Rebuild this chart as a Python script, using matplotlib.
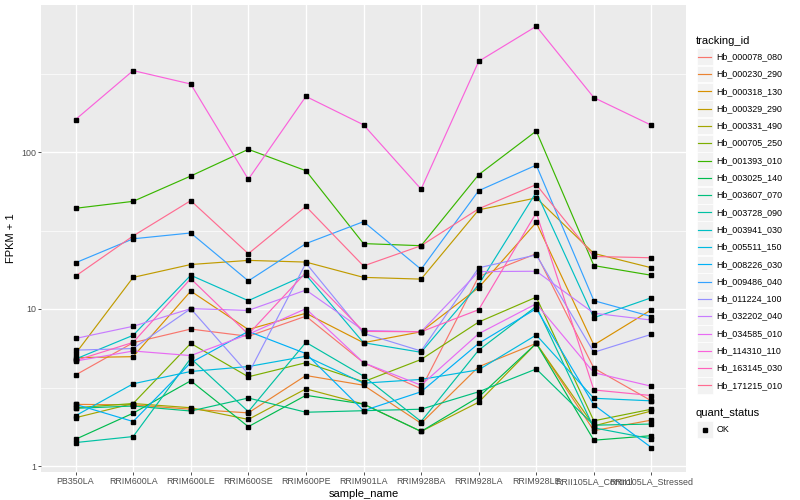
import numpy as np
import matplotlib
matplotlib.use("Agg")
import matplotlib.pyplot as plt
from matplotlib.patches import Rectangle
from matplotlib.lines import Line2D

plt.rcParams['font.family'] = ['Liberation Sans', 'DejaVu Sans']

samples = ["PB350LA", "RRIM600LA", "RRIM600LE", "RRIM600SE", "RRIM600PE",
           "RRIM901LA", "RRIM928BA", "RRIM928LA", "RRIM928LE",
           "RRII105LA_Control", "RRII105LA_Stressed"]

tracking_ids = ["Hb_000078_080", "Hb_000230_290", "Hb_000318_130", "Hb_000329_290",
                "Hb_000331_490", "Hb_000705_250", "Hb_001393_010", "Hb_003025_140",
                "Hb_003607_070", "Hb_003728_090", "Hb_003941_030", "Hb_005511_150",
                "Hb_008226_030", "Hb_009486_040", "Hb_011224_100", "Hb_032202_040",
                "Hb_034585_010", "Hb_114310_110", "Hb_163145_030", "Hb_171215_010"]

colors = ["#F8766D", "#EA8331", "#D89000", "#C09B00", "#A3A500", "#7CAE00",
          "#39B600", "#00BB4E", "#00BF7D", "#00C1A3", "#00BFC4", "#00BAE0",
          "#00B0F6", "#35A2FF", "#9590FF", "#C77CFF", "#E76BF3", "#FA62DB",
          "#FF62BC", "#FF6C91"]

Hb_000078_080 = [3.8, 6.1, 7.45, 6.7, 9.0, 4.55, 3.1, 16.1, 22.5, 4.2, 2.6]
Hb_000230_290 = [2.47, 2.45, 2.3, 2.18, 3.77, 3.27, 1.87, 4.29, 6.04, 1.68, 1.96]
Hb_000318_130 = [4.9, 4.97, 13.0, 7.4, 9.4, 6.1, 7.16, 13.7, 35.6, 5.9, 9.9]
Hb_000329_290 = [5.2, 15.9, 19.2, 20.4, 19.9, 15.9, 15.5, 42.8, 51.0, 22.6, 18.3]
Hb_000331_490 = [2.03, 2.5, 2.35, 1.98, 3.1, 2.48, 1.66, 2.55, 6.04, 1.8, 2.24]
Hb_000705_250 = [2.35, 2.5, 6.04, 3.7, 4.55, 3.44, 4.77, 8.26, 11.9, 1.94, 2.3]
Hb_001393_010 = [43.8, 48.5, 70.3, 104.0, 76.0, 26.1, 25.3, 71.7, 136.0, 18.9, 16.4]
Hb_003025_140 = [1.48, 2.17, 3.49, 1.78, 2.82, 2.48, 1.66, 2.75, 6.04, 1.46, 1.56]
Hb_003607_070 = [2.33, 2.41, 2.24, 2.71, 2.2, 2.25, 2.3, 2.97, 4.15, 1.82, 1.85]
Hb_003728_090 = [1.41, 1.54, 4.85, 2.22, 6.13, 3.74, 1.92, 5.47, 10.4, 1.75, 1.49]
Hb_003941_030 = [4.8, 6.8, 16.4, 11.3, 16.5, 6.1, 5.3, 14.3, 55.5, 8.8, 11.8]
Hb_005511_150 = [2.09, 3.34, 4.0, 4.3, 5.0, 3.37, 3.56, 4.1, 6.83, 2.7, 2.6]
Hb_008226_030 = [2.47, 1.92, 4.55, 7.2, 5.2, 2.25, 2.97, 6.04, 10.05, 2.45, 1.31]
Hb_009486_040 = [19.7, 28.0, 30.5, 15.1, 26.1, 36.0, 17.9, 56.7, 82.5, 11.3, 8.95]
Hb_011224_100 = [5.47, 5.6, 10.05, 3.86, 19.6, 7.0, 5.4, 18.3, 22.1, 5.3, 6.9]
Hb_032202_040 = [6.49, 7.76, 10.05, 9.8, 13.2, 7.3, 7.16, 17.3, 17.4, 9.4, 8.5]
Hb_034585_010 = [4.66, 5.4, 5.05, 6.9, 10.05, 4.55, 3.27, 6.96, 10.8, 3.93, 3.22]
Hb_114310_110 = [161.0, 330.0, 271.0, 67.0, 226.0, 149.0, 58.0, 378.0, 632.0, 222.0, 148.0]
Hb_163145_030 = [4.7, 6.13, 15.6, 6.9, 17.1, 7.2, 7.16, 9.9, 41.0, 3.05, 2.81]
Hb_171215_010 = [16.2, 29.2, 49.0, 22.5, 45.0, 18.8, 25.3, 43.5, 62.0, 21.6, 21.2]

series = [Hb_000078_080, Hb_000230_290, Hb_000318_130, Hb_000329_290, Hb_000331_490,
          Hb_000705_250, Hb_001393_010, Hb_003025_140, Hb_003607_070, Hb_003728_090,
          Hb_003941_030, Hb_005511_150, Hb_008226_030, Hb_009486_040, Hb_011224_100,
          Hb_032202_040, Hb_034585_010, Hb_114310_110, Hb_163145_030, Hb_171215_010]

quant_levels = ["OK"]

W, H = 800, 500
fig = plt.figure(figsize=(W / 100, H / 100), dpi=100)
ax = fig.add_axes([41 / W, 28 / H, 645 / W, 467 / H])
ax.set_facecolor('#EBEBEB')
for s in ax.spines.values():
    s.set_visible(False)

x = np.arange(len(samples))
for vals, c in zip(series, colors):
    ax.plot(x, vals, color=c, lw=0.85, zorder=3, solid_capstyle='butt')
for vals in series:
    ax.plot(x, vals, linestyle='none', marker='s', markersize=2.4,
            color='black', zorder=4)

ax.set_yscale('log')
ax.set_ylim(10 ** (-6 / 157), 10 ** (461 / 157))
ax.set_xlim(-0.6, len(samples) - 0.4)
ax.set_yticks([1, 10, 100])
ax.set_yticklabels(["1", "10", "100"])
ax.set_yticks([10 ** 0.5, 10 ** 1.5, 10 ** 2.5], minor=True)
ax.yaxis.set_minor_formatter(matplotlib.ticker.NullFormatter())
ax.set_xticks(x)
ax.set_xticklabels(samples)
ax.grid(which='major', color='white', lw=1.0, zorder=0)
ax.grid(which='minor', axis='y', color='white', lw=0.5, zorder=0)
ax.set_axisbelow(True)
ax.tick_params(which='major', length=2.0, width=0.6, color='#333333',
               labelsize=6.4, labelcolor='#4D4D4D', pad=1.5)
ax.tick_params(which='minor', length=0)
ax.set_xlabel("sample_name", fontsize=8, color='black', labelpad=2)
ax.set_ylabel("FPKM + 1", fontsize=8, color='black', labelpad=4)

# legend drawn in a pixel-coordinate overlay
lax = fig.add_axes([0, 0, 1, 1], zorder=5)
lax.set_xlim(0, W)
lax.set_ylim(H, 0)
lax.axis('off')
lax.patch.set_alpha(0)

lax.text(696, 40.5, "tracking_id", fontsize=8, va='center', ha='left')
y0, dy = 56.7, 17.3
for i, (lab, c) in enumerate(zip(tracking_ids, colors)):
    yc = y0 + i * dy
    lax.add_patch(Rectangle((696.5, yc - 8.4), 16.8, 16.8, facecolor='#F2F2F2',
                            edgecolor='white', lw=0.5))
    lax.add_line(Line2D([698.2, 711.4], [yc, yc], color=c, lw=0.85))
    lax.text(716.5, yc, lab, fontsize=6.4, va='center', ha='left', color='black')

lax.text(696, 412.5, "quant_status", fontsize=8, va='center', ha='left')
for j, lab in enumerate(quant_levels):
    yc = 429.5 + j * dy
    lax.add_patch(Rectangle((696.5, yc - 8.4), 16.8, 16.8, facecolor='#F2F2F2',
                            edgecolor='white', lw=0.5))
    lax.add_line(Line2D([704.9], [yc], marker='s', markersize=2.4, color='black',
                        linestyle='none'))
    lax.text(716.5, yc, lab, fontsize=6.4, va='center', ha='left', color='black')

fig.savefig("out.png", dpi=100, facecolor='white')
